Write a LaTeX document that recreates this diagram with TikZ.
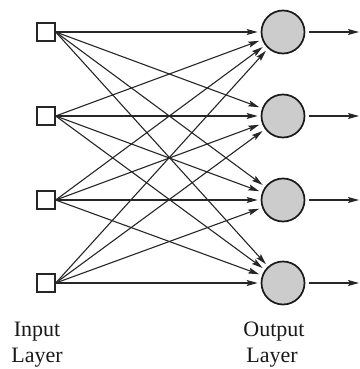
\documentclass[tikz,border=0pt]{standalone}
\usepackage{fontspec}
\setmainfont{Liberation Serif}
\usetikzlibrary{arrows.meta}
\begin{document}
\begin{tikzpicture}[x=1pt,y=-1pt,
  inunit/.style={draw=black!85, line width=1.4pt, minimum size=18pt, inner sep=0pt, fill=white},
  outunit/.style={circle, draw=black!90, line width=1.7pt, fill=black!20, minimum size=43pt, inner sep=0pt},
  link/.style={draw=black!85, line width=1.1pt, -{Stealth[length=11pt,width=6pt,inset=2pt]}, shorten >=3pt},
  lbl/.style={font=\fontsize{22}{26}\selectfont, text=black!90, inner sep=0pt}]
\useasboundingbox (0,0) rectangle (359,369);
% units of the two layers
\foreach \i/\y in {1/32,2/116,3/200,4/283} {
  \node[inunit] (in\i) at (46,\y) {};
  \node[outunit] (out\i) at (283,\y) {};
  \coordinate (end\i) at (359,\y);
}
% full connections from every input to every output
\foreach \i in {1,...,4} {
  \foreach \j in {1,...,4} {
    \draw[link] (in\i.east) -- (out\j);
  }
}
% output signals
\foreach \i in {1,...,4} {
  \draw[link, shorten >=0pt, shorten <=4pt] (out\i) -- (end\i);
}
% layer captions
\node[lbl, anchor=base] (inlblA) at (37,336) {Input};
\node[lbl, anchor=base] (inlblB) at (37,362) {Layer};
\node[lbl, anchor=base] (outlblA) at (274,336) {Output};
\node[lbl, anchor=base] (outlblB) at (272,362) {Layer};
\end{tikzpicture}
\end{document}
